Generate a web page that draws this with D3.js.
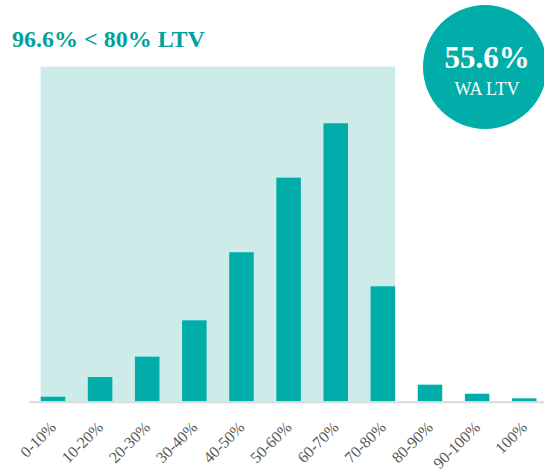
<!DOCTYPE html>
<html>
<head>
<meta charset="utf-8">
<script src="https://cdn.jsdelivr.net/npm/d3@7"></script>
<style>
html,body{margin:0;padding:0;background:#fff;}
svg{display:block;}
</style>
</head>
<body>
<svg id="chart" width="544" height="470"></svg>
<script>
const categories = ["0-10%","10-20%","20-30%","30-40%","40-50%","50-60%","60-70%","70-80%","80-90%","90-100%","100%"];
const shares = [0.48, 2.54, 4.67, 8.47, 15.59, 23.39, 29.08, 12.03, 1.74, 0.79, 0.31];
const highlightCategories = ["0-10%","70-80%"];
const yDomain = [0, 35];
const titleText = "96.6% < 80% LTV";
const badgeValue = "55.6%";
const badgeLabel = "WA LTV";

const teal = "#00ADA9";
const shade = "#CCEBE9";
const serif = "'Liberation Serif', 'Times New Roman', serif";
const svg = d3.select("#chart");

const plot = {left: 29.4, right: 547.8, top: 66.7, bottom: 401.3};

const x = d3.scaleBand().domain(categories).range([plot.left, plot.right])
  .paddingInner(0.48).paddingOuter(0.24);
const y = d3.scaleLinear().domain(yDomain).range([plot.bottom, plot.top]);

// shaded region under 80%
svg.append("rect")
  .attr("x", x(highlightCategories[0]))
  .attr("y", y(yDomain[1]))
  .attr("width", x(highlightCategories[1]) + x.bandwidth() - x(highlightCategories[0]))
  .attr("height", y(0) - y(yDomain[1]))
  .attr("fill", shade);

// bars
svg.append("g").selectAll("rect").data(categories).join("rect")
  .attr("x", d => x(d))
  .attr("y", (d,i) => y(shares[i]))
  .attr("width", x.bandwidth())
  .attr("height", (d,i) => y(0) - y(shares[i]))
  .attr("fill", teal);

// x axis
const xAxis = d3.axisBottom(x).tickSize(0).tickSizeOuter(0);
const gx = svg.append("g").attr("transform", `translate(0,${plot.bottom})`).call(xAxis);
gx.attr("font-family", serif);
gx.select(".domain").attr("stroke", "#d9d9d9").attr("stroke-width", 2)
  .attr("d", `M${plot.left},1H544`);
gx.selectAll(".tick text")
  .attr("fill", "#595959")
  .attr("font-family", serif)
  .attr("font-size", 16)
  .attr("text-anchor", "end")
  .attr("dy", 0)
  .attr("y", 0)
  .attr("transform", "translate(4,27) rotate(-45)");

// title
svg.append("text")
  .attr("x", 12).attr("y", 47)
  .attr("fill", "#00A19A")
  .attr("font-family", serif)
  .attr("font-weight", "bold")
  .attr("font-size", 24)
  .text(titleText);

// badge
const cx = 485, cy = 67, r = 62;
svg.append("circle").attr("cx", cx).attr("cy", cy).attr("r", r).attr("fill", teal);
svg.append("text")
  .attr("x", cx + 2).attr("y", 68)
  .attr("text-anchor", "middle")
  .attr("fill", "#fff")
  .attr("font-family", serif)
  .attr("font-weight", "bold")
  .attr("font-size", 31)
  .text(badgeValue);
svg.append("text")
  .attr("x", cx + 2).attr("y", 95)
  .attr("text-anchor", "middle")
  .attr("fill", "#fff")
  .attr("font-family", serif)
  .attr("font-size", 18)
  .text(badgeLabel);
</script>
</body>
</html>
